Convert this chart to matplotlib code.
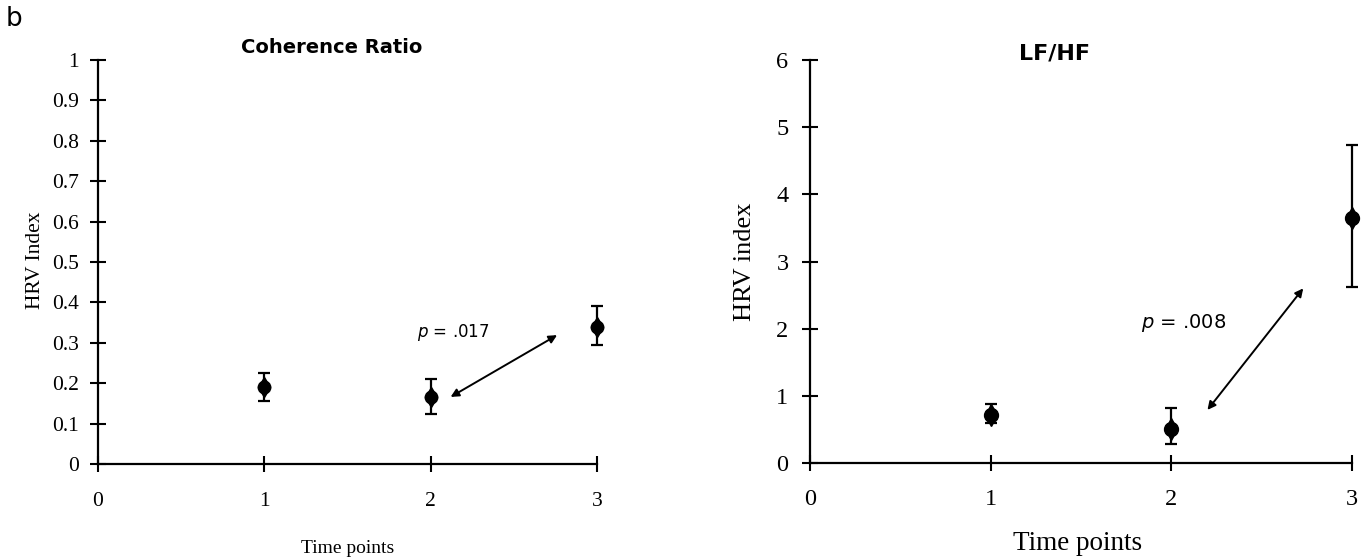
import matplotlib
matplotlib.use("Agg")
import matplotlib.pyplot as plt

# data
time_points = [1, 2, 3]

coh_mean = [0.19, 0.165, 0.34]
coh_lo = [0.155, 0.125, 0.295]
coh_hi = [0.225, 0.21, 0.39]

lfhf_mean = [0.72, 0.50, 3.65]
lfhf_lo = [0.60, 0.28, 2.62]
lfhf_hi = [0.88, 0.82, 4.73]

coh_yticks = [0, 0.1, 0.2, 0.3, 0.4, 0.5, 0.6, 0.7, 0.8, 0.9, 1]
coh_yticklabels = ['0', '0.1', '0.2', '0.3', '0.4', '0.5', '0.6', '0.7', '0.8', '0.9', '1']
lfhf_yticks = [0, 1, 2, 3, 4, 5, 6]
xticks = [0, 1, 2, 3]

W, H = 1362, 560
plt.rcParams['mathtext.fontset'] = 'dejavusans'
serif = 'Liberation Serif'

fig = plt.figure(figsize=(W / 100, H / 100), dpi=100)


def px_axes(x0, x1, y0, y1):
    # pixel box of the data area, measured from the top-left corner
    return fig.add_axes([x0 / W, 1 - y0 / H, (x1 - x0) / W, (y0 - y1) / H])


def style(ax, fs, xpad, ypad):
    for s in ['top', 'right']:
        ax.spines[s].set_visible(False)
    for s in ['left', 'bottom']:
        ax.spines[s].set_linewidth(1.6)
    ax.tick_params(direction='inout', length=11, width=1.5, labelsize=fs)
    ax.tick_params(axis='x', pad=xpad)
    ax.tick_params(axis='y', pad=ypad)
    for lab in ax.get_xticklabels() + ax.get_yticklabels():
        lab.set_fontfamily(serif)


def draw_points(ax, mean, lo, hi, ms):
    err = [[m - l for m, l in zip(mean, lo)], [h - m for m, h in zip(mean, hi)]]
    ax.errorbar(time_points, mean, yerr=err, fmt='none', ecolor='black',
                elinewidth=1.6, capsize=4.5, capthick=1.6, clip_on=False)
    ax.plot(time_points, mean, 'd', color='black', ms=ms + 1, clip_on=False)
    ax.plot(time_points, mean, 'o', color='black', ms=ms, clip_on=False)


def labels(ax, xlab, ylab, xfs, yfs, xy_x, xy_y, yx_x, yx_y):
    ax.set_xlabel(xlab, fontsize=xfs, family=serif)
    ax.set_ylabel(ylab, fontsize=yfs, family=serif)
    ax.xaxis.label.set_va('center')
    ax.yaxis.label.set_va('center')
    ax.xaxis.set_label_coords(xy_x, xy_y)
    ax.yaxis.set_label_coords(yx_x, yx_y)


# left panel: coherence ratio
ax1 = px_axes(98, 597, 464, 60)
ax1.set_xlim(0, 3)
ax1.set_ylim(0, 1)
ax1.set_xticks(xticks)
ax1.set_yticks(coh_yticks)
ax1.set_yticklabels(coh_yticklabels)
style(ax1, 15.5, 15, 8)
draw_points(ax1, coh_mean, coh_lo, coh_hi, 9)
ax1.annotate('', xy=(2.12, 0.166), xytext=(2.76, 0.319),
             arrowprops=dict(arrowstyle='<|-|>', color='black', lw=1.4,
                             mutation_scale=12, shrinkA=0, shrinkB=0))
ax1.text(1.92, 0.325, r'$\it{p}$ = .017', fontsize=12, ha='left', va='center',
         family='DejaVu Sans')
labels(ax1, 'Time points', 'HRV Index', 14, 15.5, 0.5, -0.208, -0.126, 0.505)
ax1.text(0.469, 1.032, 'Coherence Ratio', transform=ax1.transAxes,
         fontsize=14, fontweight='bold', family='DejaVu Sans',
         ha='center', va='center')

# right panel: LF/HF
ax2 = px_axes(810, 1352, 463, 60)
ax2.set_xlim(0, 3)
ax2.set_ylim(0, 6)
ax2.set_xticks(xticks)
ax2.set_yticks(lfhf_yticks)
style(ax2, 17.5, 13, 10)
draw_points(ax2, lfhf_mean, lfhf_lo, lfhf_hi, 10)
ax2.annotate('', xy=(2.20, 0.79), xytext=(2.73, 2.60),
             arrowprops=dict(arrowstyle='<|-|>', color='black', lw=1.4,
                             mutation_scale=12, shrinkA=0, shrinkB=0))
ax2.text(1.83, 2.08, r'$\it{p}$ = .008', fontsize=14, ha='left', va='center',
         family='DejaVu Sans')
labels(ax2, 'Time points', 'HRV index', 19.5, 19, 0.494, -0.199, -0.12, 0.5)
ax2.text(0.452, 1.017, 'LF/HF', transform=ax2.transAxes,
         fontsize=16, fontweight='bold', family='DejaVu Sans',
         ha='center', va='center')

fig.text(6 / W, 1 - 19 / H, 'b', fontsize=19, ha='left', va='center',
         family='DejaVu Sans')

fig.savefig('out.png', dpi=100)
